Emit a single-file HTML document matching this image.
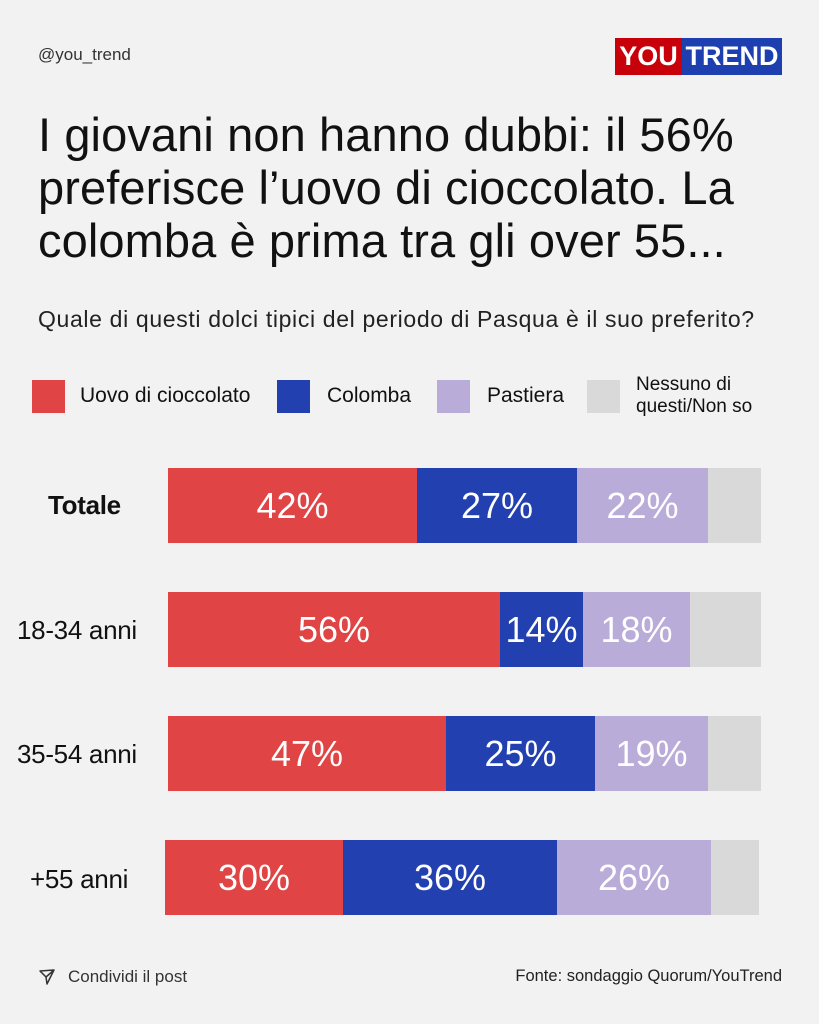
<!DOCTYPE html>
<html><head><meta charset="utf-8"><style>
body{margin:0;width:819px;height:1024px;background:#f2f2f2;font-family:"Liberation Sans",sans-serif;color:#111;position:relative;overflow:hidden}
.a{position:absolute;white-space:nowrap}
.sq{position:absolute;width:33px;height:33px}
.bar{position:absolute;height:75px;display:flex}
.bar div{height:100%;display:flex;align-items:center;justify-content:center;color:#fff;font-size:36px}
.r{background:#e04444}.b{background:#2340b0}.l{background:#b9acd9}.g{background:#d9d9d9}
.lab{position:absolute;font-size:26px;left:17px;letter-spacing:-0.3px}
</style></head><body>
<div class="a" style="left:38px;top:45px;font-size:17px;color:#333">@you_trend</div>
<div class="a" style="left:615px;top:38px;width:67px;height:37px;background:#c8000a;color:#fff;font-weight:bold;font-size:27px;line-height:37px;text-align:center">YOU</div>
<div class="a" style="left:682px;top:38px;width:100px;height:37px;background:#1e3fb0;color:#fff;font-weight:bold;font-size:27px;line-height:37px;text-align:center">TREND</div>
<div class="a" style="left:38px;top:108px;font-size:47px;line-height:53px;letter-spacing:0.1px">I giovani non hanno dubbi: il 56%<br>preferisce l’uovo di cioccolato. La<br>colomba è prima tra gli over 55...</div>
<div class="a" style="left:38px;top:306px;font-size:23px;color:#222;letter-spacing:0.65px">Quale di questi dolci tipici del periodo di Pasqua è il suo preferito?</div>
<div class="sq r" style="left:32px;top:380px"></div><div class="a" style="left:80px;top:384px;font-size:21px">Uovo di cioccolato</div>
<div class="sq b" style="left:277px;top:380px"></div><div class="a" style="left:327px;top:384px;font-size:21px">Colomba</div>
<div class="sq l" style="left:437px;top:380px"></div><div class="a" style="left:487px;top:384px;font-size:21px">Pastiera</div>
<div class="sq g" style="left:587px;top:380px"></div><div class="a" style="left:636px;top:374px;font-size:19px;line-height:22px">Nessuno di<br>questi/Non so</div>
<div class="lab" style="top:490px;left:48px;font-weight:bold">Totale</div>
<div class="bar" style="left:168px;top:468px"><div class="r" style="width:249px">42%</div><div class="b" style="width:160px">27%</div><div class="l" style="width:131px">22%</div><div class="g" style="width:53px"></div></div>
<div class="lab" style="top:615px">18-34 anni</div>
<div class="bar" style="left:168px;top:592px"><div class="r" style="width:332px">56%</div><div class="b" style="width:83px">14%</div><div class="l" style="width:107px">18%</div><div class="g" style="width:71px"></div></div>
<div class="lab" style="top:739px">35-54 anni</div>
<div class="bar" style="left:168px;top:716px"><div class="r" style="width:278px">47%</div><div class="b" style="width:149px">25%</div><div class="l" style="width:113px">19%</div><div class="g" style="width:53px"></div></div>
<div class="lab" style="top:864px;left:30px">+55 anni</div>
<div class="bar" style="left:165px;top:840px"><div class="r" style="width:178px">30%</div><div class="b" style="width:214px">36%</div><div class="l" style="width:154px">26%</div><div class="g" style="width:48px"></div></div>
<svg class="a" style="left:38px;top:968px" width="18" height="18" viewBox="0 0 18 18"><path d="M2 3 L16 2 L9 16 L8 9 Z M8 9 L16 2" fill="none" stroke="#333" stroke-width="1.5" stroke-linejoin="round"/></svg>
<div class="a" style="left:68px;top:967px;font-size:17px;color:#333">Condividi il post</div>
<div class="a" style="right:37px;top:967px;font-size:16.5px;color:#222">Fonte: sondaggio Quorum/YouTrend</div>
</body></html>
